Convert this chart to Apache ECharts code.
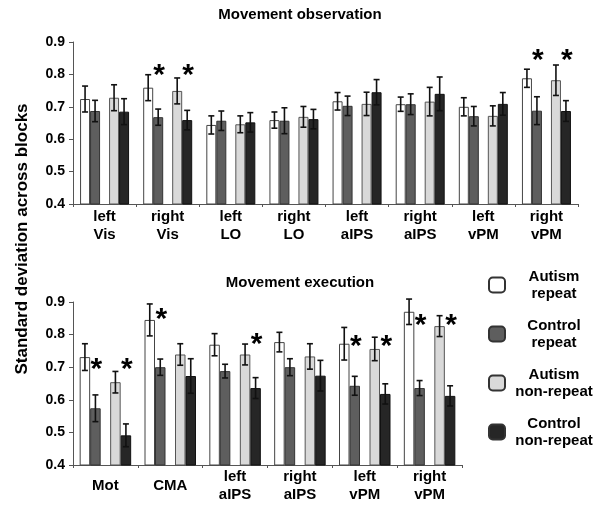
<!DOCTYPE html>
<html><head><meta charset="utf-8">
<script src="https://cdn.jsdelivr.net/npm/echarts@6/dist/echarts.min.js"></script>
<style>html,body{margin:0;padding:0;background:#fff}#c{width:600px;height:506px}</style>
</head><body><div id="c"></div>
<script>
// ---- categories & labels ----
const topCategories = ['left\nVis','right\nVis','left\nLO','right\nLO','left\naIPS','right\naIPS','left\nvPM','right\nvPM'];
const bottomCategories = ['Mot','CMA','left\naIPS','right\naIPS','left\nvPM','right\nvPM'];
const seriesNames = ['Autism repeat','Control repeat','Autism non-repeat','Control non-repeat'];
const legendLabels = ['Autism\nrepeat','Control\nrepeat','Autism\nnon-repeat','Control\nnon-repeat'];
const topTitle = 'Movement observation';
const bottomTitle = 'Movement execution';
const yTitle = 'Standard deviation across blocks';
const yMin = 0.4, yMax = 0.9, yStep = 0.1;

// ---- Movement observation (means, SE) ----
const obsAutismRepeat        = [0.724,0.759,0.644,0.659,0.717,0.708,0.700,0.788];
const obsAutismRepeatErr     = [0.040,0.040,0.028,0.025,0.027,0.022,0.028,0.028];
const obsControlRepeat       = [0.687,0.668,0.657,0.657,0.703,0.708,0.671,0.688];
const obsControlRepeatErr    = [0.033,0.025,0.030,0.040,0.030,0.032,0.030,0.043];
const obsAutismNonRepeat     = [0.728,0.749,0.646,0.669,0.709,0.716,0.672,0.782];
const obsAutismNonRepeatErr  = [0.040,0.040,0.026,0.032,0.036,0.044,0.031,0.047];
const obsControlNonRepeat    = [0.685,0.659,0.652,0.662,0.745,0.740,0.709,0.687];
const obsControlNonRepeatErr = [0.040,0.030,0.030,0.030,0.039,0.052,0.035,0.032];
// significance asterisks (level on the value axis; null = none)
const obsStarControlRepeat    = [null,0.817,null,null,null,null,null,0.863];
const obsStarControlNonRepeat = [null,0.817,null,null,null,null,null,0.863];

// ---- Movement execution (means, SE) ----
const exeAutismRepeat        = [0.731,0.845,0.769,0.777,0.772,0.870];
const exeAutismRepeatErr     = [0.041,0.049,0.034,0.030,0.050,0.039];
const exeControlRepeat       = [0.574,0.700,0.688,0.700,0.643,0.636];
const exeControlRepeatErr    = [0.041,0.025,0.021,0.026,0.029,0.023];
const exeAutismNonRepeat     = [0.654,0.739,0.739,0.733,0.756,0.826];
const exeAutismNonRepeatErr  = [0.033,0.033,0.032,0.039,0.036,0.032];
const exeControlNonRepeat    = [0.491,0.673,0.636,0.674,0.618,0.612];
const exeControlNonRepeatErr = [0.035,0.053,0.032,0.047,0.031,0.031];
const exeStarControlRepeat    = [0.714,0.868,null,null,0.785,0.849];
const exeStarControlNonRepeat = [0.714,null,0.791,null,0.785,0.849];

// ---- styling ----
const FONT = 'Liberation Sans, Arial, sans-serif';
const fills   = ['#ffffff','#5e5e5e','#d9d9d9','#262626'];
const borders = ['#444444','#333333','#555555','#111111'];

const obsMeans = [obsAutismRepeat,obsControlRepeat,obsAutismNonRepeat,obsControlNonRepeat];
const obsErrs  = [obsAutismRepeatErr,obsControlRepeatErr,obsAutismNonRepeatErr,obsControlNonRepeatErr];
const obsStars = [null,obsStarControlRepeat,null,obsStarControlNonRepeat];
const exeMeans = [exeAutismRepeat,exeControlRepeat,exeAutismNonRepeat,exeControlNonRepeat];
const exeErrs  = [exeAutismRepeatErr,exeControlRepeatErr,exeAutismNonRepeatErr,exeControlNonRepeatErr];
const exeStars = [null,exeStarControlRepeat,null,exeStarControlNonRepeat];

function offsetsFor(w, gap){
  // bar order: s0, s1, [spacer], s2, s3 ; total centered on the category
  const total = 4*w + gap;
  const start = -total/2;
  return [start + w/2, start + 1.5*w, start + 2.5*w + gap, start + 3.5*w + gap];
}

function buildSeries(axisIdx, means, errs, stars, w, gap){
  const out = [];
  means.forEach((arr, k) => {
    out.push({
      type:'bar', name: seriesNames[k], xAxisIndex: axisIdx, yAxisIndex: axisIdx,
      data: arr, barWidth: w, barGap: '0%', z: 2,
      itemStyle: { color: fills[k], borderColor: borders[k], borderWidth: 1 },
      emphasis: { disabled: true }
    });
    if (k === 1) {
      out.push({
        type:'bar', name:'spacer'+axisIdx, xAxisIndex: axisIdx, yAxisIndex: axisIdx,
        data: arr.map(() => '-'), barWidth: gap, barGap: '0%', silent: true
      });
    }
  });
  const offs = offsetsFor(w, gap);
  const errData = [];
  means.forEach((arr, k) => arr.forEach((m, i) => errData.push([i, m, errs[k][i], k])));
  out.push({
    type:'custom', xAxisIndex: axisIdx, yAxisIndex: axisIdx, z: 5, silent: true,
    data: errData, encode: { x: 0, y: 1 },
    renderItem: function(params, api){
      const c = api.value(0), m = api.value(1), e = api.value(2), k = api.value(3);
      const top = api.coord([c, m + e]);
      const bot = api.coord([c, m - e]);
      const x = top[0] + offs[k];
      const st = { stroke:'#111', lineWidth: 1.6 };
      const cap = 3;
      return { type:'group', children:[
        { type:'line', shape:{x1:x, y1:top[1], x2:x, y2:bot[1]}, style: st },
        { type:'line', shape:{x1:x-cap, y1:top[1], x2:x+cap, y2:top[1]}, style: st },
        { type:'line', shape:{x1:x-cap, y1:bot[1], x2:x+cap, y2:bot[1]}, style: st }
      ]};
    }
  });
  const starData = [];
  stars.forEach((arr, k) => { if (arr) arr.forEach((v, i) => { if (v != null) starData.push([i, v, k]); }); });
  out.push({
    type:'custom', xAxisIndex: axisIdx, yAxisIndex: axisIdx, z: 6, silent: true,
    data: starData, encode: { x: 0, y: 1 },
    renderItem: function(params, api){
      const p = api.coord([api.value(0), api.value(1)]);
      const k = api.value(2);
      return { type:'text', style: {
        text: '*', x: p[0] + offs[k] + 1, y: p[1] + 7,
        font: 'bold 30px ' + FONT, fill: '#000',
        align: 'center', verticalAlign: 'middle', textAlign: 'center', textVerticalAlign: 'middle'
      }};
    }
  });
  return out;
}

function yAxisOf(gridIndex){
  return {
    type:'value', gridIndex, min: yMin, max: yMax, interval: yStep,
    axisLine: { show: true, lineStyle: { color:'#555', width: 1 } },
    axisTick: { show: true, length: 4, lineStyle: { color:'#555' } },
    splitLine: { show: false },
    axisLabel: { color:'#000', fontFamily: FONT, fontWeight:'bold', fontSize: 14, margin: 8,
                 formatter: v => v.toFixed(1) }
  };
}
function xAxisOf(gridIndex, cats, margin){
  return {
    type:'category', gridIndex, data: cats,
    axisLine: { show: true, lineStyle: { color:'#555', width: 1 } },
    axisTick: { show: true, length: 3, interval: 0, lineStyle: { color:'#555' } },
    axisLabel: { interval: 0, color:'#000', fontFamily: FONT, fontWeight:'bold', fontSize: 15,
                 lineHeight: 18, verticalAlign: 'middle', margin: margin }
  };
}

const chart = echarts.init(document.getElementById('c'), null, { renderer: 'canvas' });
chart.setOption({
  animation: false,
  backgroundColor: '#fff',
  title: [
    { text: topTitle, left: 'center', top: 7, padding: 0,
      textStyle: { fontFamily: FONT, fontWeight: 'bold', fontSize: 15, color: '#000' } },
    { text: bottomTitle, left: 'center', top: 275, padding: 0,
      textStyle: { fontFamily: FONT, fontWeight: 'bold', fontSize: 15, color: '#000' } }
  ],
  grid: [
    { left: 73, top: 42, width: 505, height: 162 },
    { left: 73, top: 302, width: 389, height: 163 }
  ],
  xAxis: [ xAxisOf(0, topCategories, 22), xAxisOf(1, bottomCategories, 21) ],
  yAxis: [ yAxisOf(0), yAxisOf(1) ],
  legend: {
    orient: 'vertical', left: 488, top: 269, padding: 0,
    itemWidth: 16, itemHeight: 15, itemGap: 17, icon: 'roundRect',
    selectedMode: false, data: seriesNames,
    itemStyle: { borderColor: '#333', borderWidth: 2 },
    formatter: name => legendLabels[seriesNames.indexOf(name)].split('\n').map(s => '{t|' + s + '}').join('\n'),
    textStyle: { rich: { t: { fontFamily: FONT, fontWeight: 'bold', fontSize: 15, color: '#000',
                              width: 88, align: 'center', lineHeight: 17 } } }
  },
  graphic: [
    { type: 'text', x: 22, y: 239, rotation: Math.PI / 2,
      style: { text: yTitle, font: 'bold 17px ' + FONT, fill: '#000',
               align: 'center', verticalAlign: 'middle', textAlign: 'center', textVerticalAlign: 'middle' } }
  ],
  series: [].concat(
    buildSeries(0, obsMeans, obsErrs, obsStars, 10, 9),
    buildSeries(1, exeMeans, exeErrs, exeStars, 10.5, 9.5)
  )
});
</script>
</body></html>
